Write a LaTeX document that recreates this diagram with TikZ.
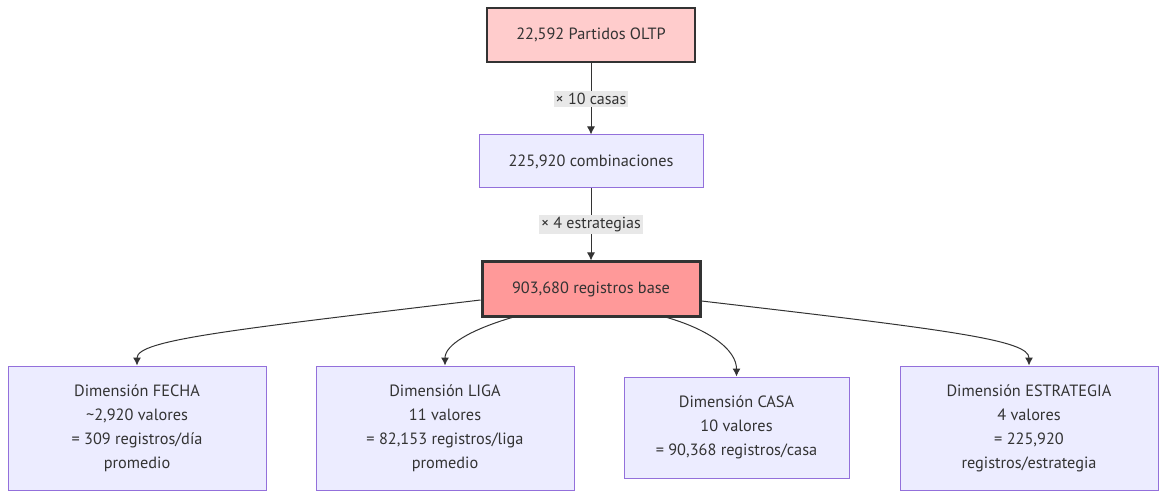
\documentclass[tikz,border=0pt]{standalone}
\usepackage{fontspec}
\setmainfont{PT Sans}
\usetikzlibrary{arrows.meta}
\definecolor{edge}{HTML}{333333}
\definecolor{lav}{HTML}{9370DB}
\definecolor{lavfill}{HTML}{ECECFF}
\definecolor{pinkfill}{HTML}{FFCCCC}
\definecolor{redfill}{HTML}{FF9999}
\definecolor{lblbg}{HTML}{E8E8E8}
\definecolor{txt}{HTML}{333333}
\tikzset{
  box/.style={draw=lav, fill=lavfill, line width=1pt, inner sep=0pt, align=center, text=txt, font=\fontsize{16.3}{24}\selectfont},
  srcbox/.style={draw=edge, fill=pinkfill, line width=2pt, inner sep=0pt, align=center, text=txt, font=\fontsize{16.3}{24}\selectfont},
  basebox/.style={draw=edge, fill=redfill, line width=3pt, inner sep=0pt, align=center, text=txt, font=\fontsize{16.3}{24}\selectfont},
  lbl/.style={fill=lblbg, inner sep=2pt, text=txt, font=\fontsize{16}{18}\selectfont},
  conn/.style={draw=edge, line width=1pt, -{Latex[length=8pt,width=8pt]}},
}
\begin{document}
\begin{tikzpicture}[x=1pt,y=-1pt]
\useasboundingbox[fill=white] (0,0) rectangle (1174,502);
\node[srcbox, minimum width=208pt, minimum height=54pt] (a) at (591,35) {22,592 Partidos OLTP};
\node[box, minimum width=224pt, minimum height=53pt] (b) at (591,161.5) {225,920 combinaciones};
\node[basebox, minimum width=218pt, minimum height=54pt] (c) at (591,289) {903,680 registros base};
\node[box, minimum width=258pt, minimum height=124pt] (d1) at (137,428) {Dimensión FECHA\\\textasciitilde2,920 valores\\= 309 registros/día\\promedio};
\node[box, minimum width=258pt, minimum height=124pt] (d2) at (445,428) {Dimensión LIGA\\11 valores\\= 82,153 registros/liga\\promedio};
\node[box, minimum width=225pt, minimum height=101pt] (d3) at (736.5,427.5) {Dimensión CASA\\10 valores\\= 90,368 registros/casa};
\node[box, minimum width=258pt, minimum height=124pt] (d4) at (1029,428) {Dimensión ESTRATEGIA\\4 valores\\= 225,920\\registros/estrategia};
\draw[conn] (a) -- node[lbl] (l1) {× 10 casas} (b);
\draw[conn] (b) -- node[lbl] (l2) {× 4 estrategias} (c);
\coordinate (c1) at ([yshift=-11pt]c.west);
\coordinate (c2) at ([xshift=-79pt]c.south);
\coordinate (c3) at ([xshift=76pt]c.south);
\coordinate (c4) at ([yshift=-12pt]c.east);
\draw[conn] (c1) .. controls (230,330) and (137,340) .. (d1.north);
\draw[conn] (c2) .. controls (470,330) and (445,345) .. (d2.north);
\draw[conn] (c3) .. controls (710,330) and (736.5,350) .. (d3.north);
\draw[conn] (c4) .. controls (950,330) and (1029,340) .. (d4.north);
\end{tikzpicture}
\end{document}
